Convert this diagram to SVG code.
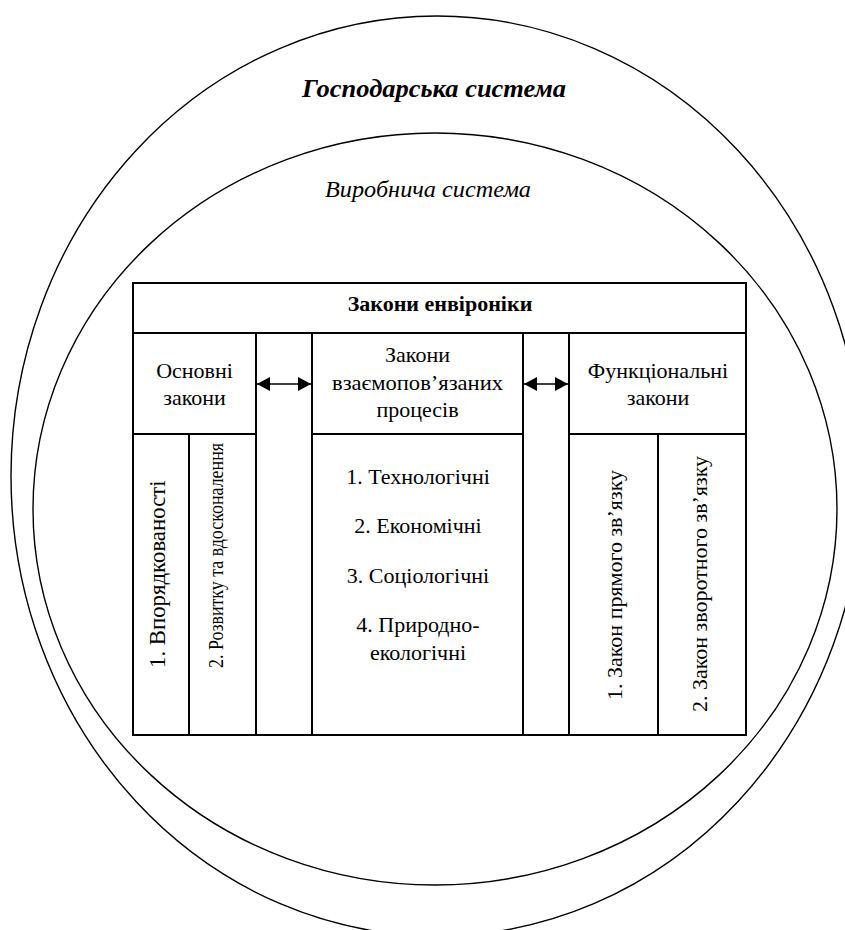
<svg xmlns="http://www.w3.org/2000/svg" width="845" height="930" viewBox="0 0 845 930">
<style>
.ell{fill:none;stroke:#000;stroke-width:1.4}
.box{fill:#fff;stroke:#000;stroke-width:2}
.ln{stroke:#000;stroke-width:2}
.t{font-family:"Liberation Serif","DejaVu Serif",serif;font-size:22px;fill:#000}
.c{text-anchor:middle}
.arr{stroke:#000;stroke-width:1.5;fill:none}
</style>
<defs>
<marker id="ah" markerWidth="13" markerHeight="14" refX="13" refY="7" orient="auto-start-reverse" markerUnits="userSpaceOnUse">
<path d="M0,0 L13,7 L0,14 Z" fill="#000"/>
</marker>
</defs>
<rect width="845" height="930" fill="#fff"/>
<g id="gospodarska">
<ellipse class="ell" cx="437" cy="476" rx="426" ry="460"/>
<text class="t c" x="434" y="97" textLength="264" lengthAdjust="spacingAndGlyphs" style="font-weight:bold;font-style:italic;font-size:25px">Господарська система</text>
</g>
<g id="vyrobnycha">
<ellipse class="ell" cx="435" cy="509" rx="402" ry="376"/>
<text class="t c" x="428" y="197" textLength="206" lengthAdjust="spacingAndGlyphs" style="font-style:italic;font-size:23px">Виробнича система</text>
</g>
<g id="zakony-environiky">
<rect class="box" x="133" y="283" width="613" height="452"/>
<line class="ln" x1="133" y1="333" x2="746" y2="333"/>
<text class="t c" x="440" y="311" style="font-weight:bold;font-size:22px">Закони енвіроніки</text>
</g>
<g id="osnovni">
<rect class="box" x="133" y="333" width="123" height="101"/>
<text class="t c" x="194.5" y="378">Основні</text>
<text class="t c" x="194.5" y="405">закони</text>
</g>
<g id="osnovni-1">
<rect class="box" x="133" y="434" width="56" height="301"/>
<text class="t" transform="translate(165,668) rotate(-90)" style="font-size:22.8px">1. Впорядкованості</text>
</g>
<g id="osnovni-2">
<rect class="box" x="189" y="434" width="67" height="301"/>
<text class="t" transform="translate(223,668) rotate(-90)" textLength="225" lengthAdjust="spacingAndGlyphs" style="font-size:21.5px">2. Розвитку та вдосконалення</text>
</g>
<g id="gap-left">
<rect class="box" x="256" y="333" width="56" height="402"/>
</g>
<g id="vzayemopov">
<rect class="box" x="312" y="333" width="211" height="101"/>
<text class="t c" x="417.5" y="362">Закони</text>
<text class="t c" x="417.5" y="390" textLength="171" lengthAdjust="spacingAndGlyphs">взаємопов’язаних</text>
<text class="t c" x="417.5" y="417">процесів</text>
</g>
<g id="vzayemopov-list">
<rect class="box" x="312" y="434" width="211" height="301"/>
<text class="t c" x="418" y="484">1. Технологічні</text>
<text class="t c" x="418" y="533">2. Економічні</text>
<text class="t c" x="418" y="583">3. Соціологічні</text>
<text class="t c" x="418" y="632">4. Природно-</text>
<text class="t c" x="418" y="660">екологічні</text>
</g>
<g id="gap-right">
<rect class="box" x="523" y="333" width="46" height="402"/>
</g>
<g id="funktsionalni">
<rect class="box" x="569" y="333" width="177" height="101"/>
<text class="t c" x="658" y="378">Функціональні</text>
<text class="t c" x="658" y="405">закони</text>
</g>
<g id="funktsionalni-1">
<rect class="box" x="569" y="434" width="89" height="301"/>
<text class="t c" transform="translate(622,585) rotate(-90)">1. Закон прямого зв’язку</text>
</g>
<g id="funktsionalni-2">
<rect class="box" x="658" y="434" width="88" height="301"/>
<text class="t c" transform="translate(707,584) rotate(-90)">2. Закон зворотного зв’язку</text>
</g>
<g id="connectors">
<line class="arr" x1="257" y1="384" x2="311" y2="384" marker-start="url(#ah)" marker-end="url(#ah)"/>
<line class="arr" x1="524" y1="384" x2="568" y2="384" marker-start="url(#ah)" marker-end="url(#ah)"/>
</g>
</svg>
